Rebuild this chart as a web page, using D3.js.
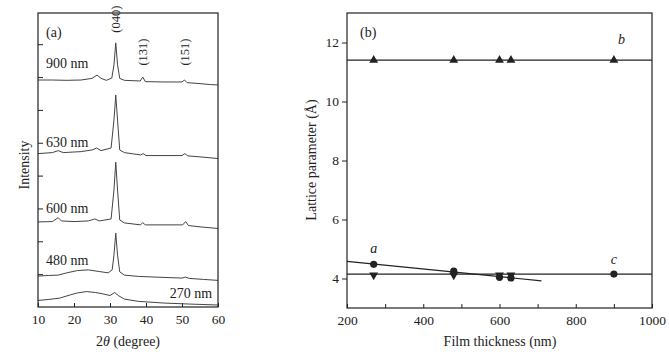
<!DOCTYPE html>
<html>
<head>
<meta charset="utf-8">
<script src="https://cdn.jsdelivr.net/npm/d3@7"></script>
<style>
  body { margin: 0; background: #fff; }
  svg text { font-family: "Liberation Serif", "Times New Roman", serif; fill: #222; }
</style>
</head>
<body>
<div id="chart"></div>
<script>
// ---- panel (a): XRD traces, [2theta, intensity (a.u.)]
const trace900 = [[10,6.91],[14,6.91],[18,6.90],[22,6.91],[25,6.96],[26.4,7.06],[27.5,6.96],[29,6.90],[30.5,6.97],[31.1,7.37],[31.6,8.04],[32.1,7.37],[32.7,6.96],[34,6.90],[38.4,6.88],[39.1,7.00],[39.8,6.86],[45,6.85],[50,6.85],[50.7,6.91],[51.4,6.83],[55,6.80],[58,6.77],[60,6.76]];
const trace630 = [[10,4.67],[14,4.70],[15.6,4.76],[17,4.70],[22,4.73],[25,4.78],[26.3,4.84],[27.5,4.76],[30.3,4.84],[31.1,5.69],[31.6,6.45],[32.1,5.69],[32.7,4.78],[34,4.70],[38.5,4.63],[39.2,4.67],[40,4.61],[50,4.61],[50.8,4.67],[51.6,4.60],[55,4.57],[60,4.52]];
const trace600 = [[10,2.59],[14,2.60],[15.6,2.72],[16.5,2.62],[20,2.60],[24,2.62],[25.8,2.68],[27,2.62],[30.3,2.68],[31.1,3.56],[31.6,4.41],[32.1,3.56],[32.7,2.65],[34,2.56],[38.5,2.50],[39.1,2.57],[39.8,2.50],[50.2,2.50],[51,2.60],[51.8,2.48],[55,2.44],[60,2.39]];
const trace480 = [[10,0.94],[13,0.96],[15.6,0.97],[18,1.04],[21,1.11],[24,1.13],[27,1.08],[29.5,1.04],[30.6,1.13],[31.1,1.58],[31.6,2.25],[32.1,1.58],[32.7,1.07],[34,0.97],[38,0.93],[45,0.90],[50,0.88],[51,0.91],[52,0.87],[56,0.84],[60,0.81]];
const trace270 = [[10,0.20],[13,0.23],[16,0.27],[19,0.37],[21,0.43],[23.5,0.47],[26,0.44],[28,0.40],[30,0.35],[31.3,0.44],[32.3,0.35],[34,0.24],[38,0.17],[45,0.12],[52,0.09],[60,0.06]];
const traceLabels = [
  {text: "900 nm", t: 12.2, v: 7.28, anchor: "start"},
  {text: "630 nm", t: 12.2, v: 4.87, anchor: "start"},
  {text: "600 nm", t: 12.2, v: 2.86, anchor: "start"},
  {text: "480 nm", t: 12.2, v: 1.28, anchor: "start"},
  {text: "270 nm", t: 58.4, v: 0.27, anchor: "end"}
];
const peakLabels = [
  {text: "(040)", t: 31.6, v: 8.35},
  {text: "(131)", t: 39.1, v: 7.35},
  {text: "(151)", t: 50.7, v: 7.35}
];
const xTicksA = [10, 20, 30, 40, 50, 60];

// ---- panel (b): lattice parameters vs film thickness
const thickness = [270, 480, 600, 630, 900];
const paramB = [11.4, 11.4, 11.4, 11.4, 11.4];
const paramA = [4.48, 4.25, 4.04, 4.02];          // first four films
const paramC = [4.15, 4.15, 4.15, 4.15, 4.15];
const fitA = [[200, 4.58], [710, 3.92]];
const fitB = [[200, 11.4], [1000, 11.4]];
const fitC = [[200, 4.15], [1000, 4.15]];
const yTicksB = [4, 6, 8, 10, 12];

const W = 669, H = 354;
const svg = d3.select("#chart").append("svg").attr("width", W).attr("height", H);
const ink = "#222";

// ================= panel (a) =================
const xa = d3.scaleLinear().domain([10, 60]).range([38, 218]);
const ya = d3.scaleLinear().domain([0, 8.95]).range([307, 13]);

svg.append("g").attr("transform", "translate(0,307)")
  .call(d3.axisBottom(xa).tickValues(xTicksA).tickSize(-4).tickPadding(7))
  .call(g => g.select(".domain").remove())
  .call(g => g.selectAll("line").attr("stroke", ink))
  .call(g => g.selectAll("text").attr("font-size", 13.5).attr("fill", ink));

svg.append("g").attr("transform", "translate(38,0)")
  .call(d3.axisLeft(ya).tickValues(d3.range(1, 9)).tickSize(-5).tickFormat(""))
  .call(g => g.select(".domain").remove())
  .call(g => g.selectAll("line").attr("stroke", ink));

const lineA = d3.line().x(d => xa(d[0])).y(d => ya(d[1]));
svg.append("g").selectAll("path")
  .data([trace900, trace630, trace600, trace480, trace270])
  .join("path")
  .attr("fill", "none").attr("stroke", "#444").attr("stroke-width", 1)
  .attr("d", lineA);

svg.append("rect").attr("x", 38).attr("y", 13).attr("width", 180).attr("height", 294)
  .attr("fill", "none").attr("stroke", ink).attr("stroke-width", 1.2);

svg.append("g").selectAll("text").data(traceLabels).join("text")
  .attr("x", d => xa(d.t)).attr("y", d => ya(d.v))
  .attr("text-anchor", d => d.anchor).attr("font-size", 14)
  .text(d => d.text);

svg.append("g").selectAll("text").data(peakLabels).join("text")
  .attr("transform", d => `translate(${xa(d.t) + 4.5},${ya(d.v)}) rotate(-90)`)
  .attr("text-anchor", "start").attr("font-size", 12.5)
  .text(d => d.text);

svg.append("text").attr("x", 46).attr("y", 37).attr("font-size", 14).text("(a)");

svg.append("text").attr("x", 128).attr("y", 346).attr("text-anchor", "middle").attr("font-size", 14)
  .call(t => { t.append("tspan").text("2"); t.append("tspan").attr("font-style", "italic").text("θ"); t.append("tspan").text(" (degree)"); });

svg.append("text").attr("transform", "translate(29,165) rotate(-90)")
  .attr("text-anchor", "middle").attr("font-size", 14).text("Intensity");

// ================= panel (b) =================
const xb = d3.scaleLinear().domain([200, 1000]).range([347, 652]);
const yb = d3.scaleLinear().domain([3, 13]).range([308, 13]);

svg.append("g").attr("transform", "translate(0,308)")
  .call(d3.axisBottom(xb).tickValues(d3.range(200, 1001, 100)).tickSize(-4).tickPadding(7)
    .tickFormat(d => d % 200 === 0 ? d : ""))
  .call(g => g.select(".domain").remove())
  .call(g => g.selectAll("line").attr("stroke", ink))
  .call(g => g.selectAll("text").attr("font-size", 13.5).attr("fill", ink));

svg.append("g").attr("transform", "translate(347,0)")
  .call(d3.axisLeft(yb).tickValues(yTicksB).tickSize(5).tickPadding(3))
  .call(g => g.select(".domain").remove())
  .call(g => g.selectAll("line").attr("stroke", ink))
  .call(g => g.selectAll("text").attr("font-size", 13.5).attr("fill", ink));

const lineB = d3.line().x(d => xb(d[0])).y(d => yb(d[1]));
svg.append("g").selectAll("path").data([fitA, fitB, fitC]).join("path")
  .attr("fill", "none").attr("stroke", ink).attr("stroke-width", 1.2).attr("d", lineB);

const triUp = d3.symbol().type(d3.symbolTriangle).size(34);
svg.append("g").selectAll("path").data(thickness.map((t, i) => [t, paramB[i]])).join("path")
  .attr("transform", d => `translate(${xb(d[0])},${yb(d[1])})`)
  .attr("d", triUp).attr("fill", ink);

svg.append("g").selectAll("path").data(thickness.slice(0, 4).map((t, i) => [t, paramC[i]])).join("path")
  .attr("transform", d => `translate(${xb(d[0])},${yb(d[1]) + 1}) rotate(180)`)
  .attr("d", triUp).attr("fill", ink);

svg.append("g").selectAll("circle")
  .data(thickness.slice(0, 4).map((t, i) => [t, paramA[i]]).concat([[thickness[4], paramC[4]]]))
  .join("circle")
  .attr("cx", d => xb(d[0])).attr("cy", d => yb(d[1])).attr("r", 3.6).attr("fill", ink);

svg.append("rect").attr("x", 347).attr("y", 13).attr("width", 305).attr("height", 295)
  .attr("fill", "none").attr("stroke", ink).attr("stroke-width", 1.2);

svg.append("text").attr("x", 360).attr("y", 37).attr("font-size", 14).text("(b)");
svg.append("text").attr("x", xb(270)).attr("y", yb(4.85)).attr("text-anchor", "middle")
  .attr("font-size", 14).attr("font-style", "italic").text("a");
svg.append("text").attr("x", xb(920)).attr("y", yb(11.95)).attr("text-anchor", "middle")
  .attr("font-size", 14).attr("font-style", "italic").text("b");
svg.append("text").attr("x", xb(900)).attr("y", yb(4.5)).attr("text-anchor", "middle")
  .attr("font-size", 14).attr("font-style", "italic").text("c");

svg.append("text").attr("x", 500).attr("y", 346).attr("text-anchor", "middle").attr("font-size", 14)
  .text("Film thickness (nm)");
svg.append("text").attr("transform", "translate(316,160) rotate(-90)")
  .attr("text-anchor", "middle").attr("font-size", 14).text("Lattice parameter (Å)");
</script>
</body>
</html>
